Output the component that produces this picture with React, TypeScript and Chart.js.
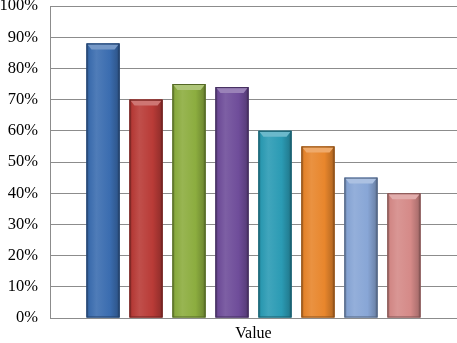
import React, { useEffect, useRef } from "react";
import { Chart, registerables } from "chart.js";

Chart.register(...registerables);

const categories = ["Value"];
const seriesNames = ["S1", "S2", "S3", "S4", "S5", "S6", "S7", "S8"];
const seriesValues = [88, 70, 75, 74, 60, 55, 45, 40];
const seriesColors = ["#3b6db0", "#b93b37", "#8cad3f", "#6f4d9a", "#2b9bb4", "#e8862c", "#88a6d6", "#d58a88"];
const yTicks = [0, 10, 20, 30, 40, 50, 60, 70, 80, 90, 100];

function shade(hex: string, amt: number): string {
  const n = parseInt(hex.slice(1), 16);
  let r = (n >> 16) & 255, g = (n >> 8) & 255, b = n & 255;
  if (amt >= 0) {
    r = r + (255 - r) * amt; g = g + (255 - g) * amt; b = b + (255 - b) * amt;
  } else {
    r = r * (1 + amt); g = g * (1 + amt); b = b * (1 + amt);
  }
  return `rgb(${Math.round(r)},${Math.round(g)},${Math.round(b)})`;
}

const bevelPlugin = {
  id: "bevel",
  afterDatasetsDraw(chart: any) {
    const ctx = chart.ctx;
    chart.data.datasets.forEach((ds: any, i: number) => {
      const meta = chart.getDatasetMeta(i);
      meta.data.forEach((el: any) => {
        const { x, y, base, width } = el.getProps(["x", "y", "base", "width"], true);
        const l = x - width / 2, r = x + width / 2;
        const col = seriesColors[i];
        const g = ctx.createLinearGradient(l, 0, r, 0);
        g.addColorStop(0, shade(col, -0.3));
        g.addColorStop(0.08, shade(col, -0.02));
        g.addColorStop(0.3, shade(col, 0.1));
        g.addColorStop(0.7, col);
        g.addColorStop(0.92, shade(col, -0.18));
        g.addColorStop(1, shade(col, -0.4));
        ctx.save();
        ctx.fillStyle = g;
        ctx.fillRect(l, y, width, base - y);
        // beveled top cap
        ctx.beginPath();
        ctx.moveTo(l + 1, y + 1);
        ctx.lineTo(r - 1, y + 1);
        ctx.lineTo(r - 5, y + 6);
        ctx.lineTo(l + 5, y + 6);
        ctx.closePath();
        ctx.fillStyle = shade(col, 0.3);
        ctx.fill();
        ctx.strokeStyle = shade(col, -0.4);
        ctx.lineWidth = 1;
        ctx.strokeRect(l + 0.5, y + 0.5, width - 1, base - y - 1);
        ctx.restore();
      });
    });
  },
};

export default function App() {
  const ref = useRef<HTMLCanvasElement>(null);
  useEffect(() => {
    document.body.style.margin = "0";
    const chart = new Chart(ref.current!, {
      type: "bar",
      data: {
        labels: categories,
        datasets: seriesNames.map((name, i) => ({
          label: name,
          data: [seriesValues[i]],
          backgroundColor: seriesColors[i],
          borderWidth: 0,
          barPercentage: 0.77,
          categoryPercentage: 0.845,
        })),
      },
      options: {
        animation: false,
        responsive: false,
        maintainAspectRatio: false,
        layout: { padding: 0 },
        plugins: { legend: { display: false }, tooltip: { enabled: false } },
        scales: {
          x: {
            grid: { display: false, drawTicks: false },
            border: { display: true, color: "#8c8c8c" },
            ticks: { color: "#000", font: { family: "Liberation Serif", size: 16 }, padding: 6 },
            afterFit: (s: any) => { s.height = 25; },
          },
          y: {
            min: 0,
            max: 100,
            afterBuildTicks: (s: any) => { s.ticks = yTicks.map((v) => ({ value: v })); },
            afterFit: (s: any) => { s.width = 50; s.paddingTop = 6; s.paddingBottom = 0; },
            grid: { color: "#8c8c8c", drawTicks: false },
            border: { display: true, color: "#8c8c8c" },
            ticks: {
              color: "#000",
              padding: 12,
              font: { family: "Liberation Serif", size: 16.5 },
              callback: (v: any) => v + "%",
            },
          },
        },
      },
      plugins: [bevelPlugin],
    });
    return () => chart.destroy();
  }, []);
  return (
    <div style={{ width: 457, height: 343 }}>
      <canvas ref={ref} width={457} height={343} />
    </div>
  );
}
